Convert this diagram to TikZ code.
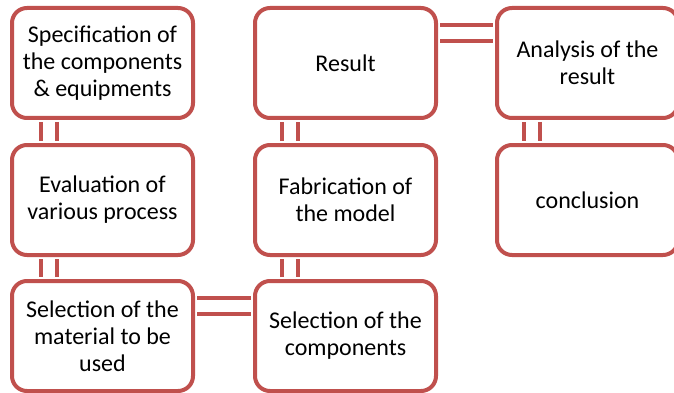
\documentclass[tikz,border=0pt]{standalone}
\usepackage{fontspec}
\setmainfont{Carlito}
\usepackage{tikz}

\definecolor{boxred}{HTML}{C0504D}

\tikzset{
  stage/.style={draw=boxred, line width=4pt, rounded corners=15pt, fill=white,
    minimum width=181pt, minimum height=110pt, align=center,
    font=\fontsize{24}{27}\selectfont},
  link/.style={draw=boxred, line width=4pt, double=white, double distance=12pt,
    shorten <=2pt, shorten >=2pt}
}

\begin{document}
\begin{tikzpicture}[x=1pt, y=-1pt]
      \useasboundingbox (0,0) rectangle (674,393);

      % Draw the stages
      \node[stage] (spec) at (102.5,63) {Specification of\\the components\\\& equipments};
      \node[stage] (eval) at (102.5,200) {Evaluation of\\various process};
      \node[stage] (mat) at (102.5,336) {Selection of the\\material to be\\used};
      \node[stage] (comp) at (345.5,336) {Selection of the\\components};
      \node[stage] (fab) at (345.5,200) {Fabrication of\\the model};
      \node[stage] (res) at (345.5,63) {Result};
      \node[stage] (ana) at (587.5,63) {Analysis of the\\result};
      \node[stage] (concl) at (587.5,200) {conclusion};

      % Draw the links between the stages
      \draw[link] ([xshift=39pt]spec.south west) -- ([xshift=39pt]eval.north west);
      \draw[link] ([xshift=39pt]eval.south west) -- ([xshift=39pt]mat.north west);
      \draw[link] ([yshift=-27pt]mat.north east) -- ([yshift=-27pt]comp.north west);
      \draw[link] ([xshift=37pt]comp.north west) -- ([xshift=37pt]fab.south west);
      \draw[link] ([xshift=37pt]fab.north west) -- ([xshift=37pt]res.south west);
      \draw[link] ([yshift=-27pt]res.north east) -- ([yshift=-27pt]ana.north west);
      \draw[link] ([xshift=37pt]ana.south west) -- ([xshift=37pt]concl.north west);
    \end{tikzpicture}
\end{document}
